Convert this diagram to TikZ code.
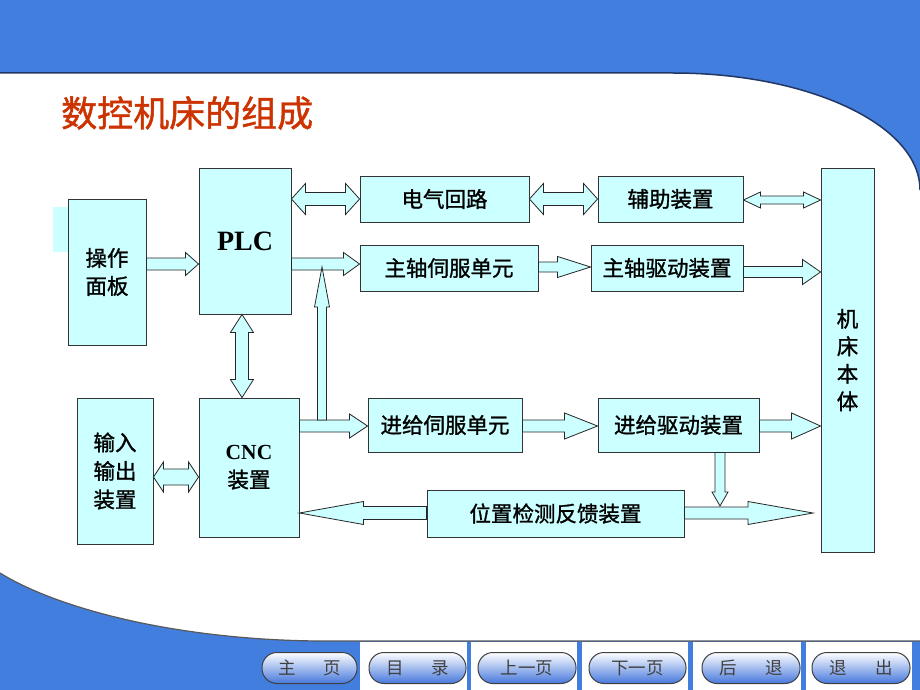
\documentclass[tikz,border=0pt]{standalone}
\usepackage{fontspec}
\setmainfont{Liberation Serif}
\newfontfamily\cjk{Noto Sans CJK SC}
\newfontfamily\cjkb{Noto Sans CJK SC}[FakeBold=1.2]
\usetikzlibrary{calc}

\definecolor{slideblue}{RGB}{66,126,222}
\definecolor{edgeblue}{RGB}{35,55,100}
\definecolor{boxcyan}{RGB}{204,255,255}
\definecolor{titlered}{RGB}{204,51,0}
\definecolor{btnblue}{RGB}{70,120,220}

% block arrows: tail, tip, level (y or x), shaft half width, head half width, head length
\newcommand{\harrow}[6]{%
	\draw[barrow] let \p1=(#1), \p2=(#2), \p3=(0,#3), \n1={(\x2-\x1)/abs(\x2-\x1)*#6} in
		(\x1,{\y3+#4}) -- ({\x2-\n1},{\y3+#4}) -- ({\x2-\n1},{\y3+#5}) -- (\x2,\y3)
		-- ({\x2-\n1},{\y3-#5}) -- ({\x2-\n1},{\y3-#4}) -- (\x1,{\y3-#4}) -- cycle;}
\newcommand{\varrow}[6]{%
	\draw[barrow] let \p1=(#1), \p2=(#2), \p3=(#3,0), \n1={(\y2-\y1)/abs(\y2-\y1)*#6} in
		({\x3+#4},\y1) -- ({\x3+#4},{\y2-\n1}) -- ({\x3+#5},{\y2-\n1}) -- (\x3,\y2)
		-- ({\x3-#5},{\y2-\n1}) -- ({\x3-#4},{\y2-\n1}) -- ({\x3-#4},\y1) -- cycle;}
\newcommand{\hdarrow}[6]{%
	\draw[barrow] let \p1=(#1), \p2=(#2), \p3=(0,#3), \n1={(\x2-\x1)/abs(\x2-\x1)*#6} in
		(\x1,\y3) -- ({\x1+\n1},{\y3+#5}) -- ({\x1+\n1},{\y3+#4}) -- ({\x2-\n1},{\y3+#4})
		-- ({\x2-\n1},{\y3+#5}) -- (\x2,\y3) -- ({\x2-\n1},{\y3-#5}) -- ({\x2-\n1},{\y3-#4})
		-- ({\x1+\n1},{\y3-#4}) -- ({\x1+\n1},{\y3-#5}) -- cycle;}
\newcommand{\vdarrow}[6]{%
	\draw[barrow] let \p1=(#1), \p2=(#2), \p3=(#3,0), \n1={(\y2-\y1)/abs(\y2-\y1)*#6} in
		(\x3,\y1) -- ({\x3+#5},{\y1+\n1}) -- ({\x3+#4},{\y1+\n1}) -- ({\x3+#4},{\y2-\n1})
		-- ({\x3+#5},{\y2-\n1}) -- (\x3,\y2) -- ({\x3-#5},{\y2-\n1}) -- ({\x3-#4},{\y2-\n1})
		-- ({\x3-#4},{\y1+\n1}) -- ({\x3-#5},{\y1+\n1}) -- cycle;}

\begin{document}
\begin{tikzpicture}[x=1pt, y=-1pt,
		box/.style={draw=black!80, fill=boxcyan, line width=0.9pt, inner sep=0pt, align=center,
			font=\cjkb\fontsize{21.5}{28}\selectfont},
		barrow/.style={draw=black!85, fill=boxcyan, line width=0.8pt},
		navbtn/.style={draw=gray!50!black, line width=1pt, rounded corners=15pt, minimum height=31pt,
			top color=white, bottom color=btnblue, inner sep=0pt, text=black!75,
			font=\cjk\fontsize{17.5}{17.5}\selectfont}]
	\useasboundingbox (0,0) rectangle (920,690);
	\fill[white] (0,0) rectangle (920,690);
	
	% slide background
	\fill[slideblue] (0,0) -- (920,0) -- (920,190) .. controls (920,125) and (809,73) .. (673,73) -- (0,73) -- cycle;
	\draw[edgeblue, line width=1.5pt] (0,73) -- (673,73) .. controls (809,73) and (920,125) .. (920,190);
	\fill[slideblue] (0,573) .. controls (60,610) and (180,640) .. (320,641) -- (920,641) -- (920,690) -- (0,690) -- cycle;
	\foreach \xa/\xb in {360/467, 471/577, 582/688, 693/801, 806/912}
		\fill[white] (\xa,642) rectangle (\xb,690);
	\draw[gray!70!black, line width=1.2pt] (0,573) .. controls (60,610) and (180,640) .. (320,641) -- (920,641);
	
	% title
	\node[anchor=west, inner sep=0pt, text=titlered, font=\cjkb\fontsize{36}{36}\selectfont] (title) at (61,113) {数控机床的组成};
	
	% boxes
	\fill[boxcyan] (53,207) rectangle (68,252);
	\node[box, minimum width=78pt, minimum height=146pt] (pnl) at (107,272) {操作\\面板};
	\node[box, minimum width=92pt, minimum height=146pt, font=\bfseries\fontsize{28}{28}\selectfont] (plc) at (245,241) {PLC};
	\node[box, minimum width=76pt, minimum height=146pt, font=\cjkb\fontsize{21.5}{28.5}\selectfont] (io) at (115,471) {输入\\输出\\装置};
	\node[box, minimum width=100pt, minimum height=139pt] (cnc) at (249,467.5) {{\normalfont\bfseries CNC}\\装置};
	\node[box, minimum width=169pt, minimum height=46pt] (elec) at (444.5,199) {电气回路};
	\node[box, minimum width=145pt, minimum height=46pt] (aux) at (670.5,199) {辅助装置};
	\node[box, minimum width=178pt, minimum height=46pt] (sserv) at (449,268) {主轴伺服单元};
	\node[box, minimum width=152pt, minimum height=46pt] (sdrv) at (667,268) {主轴驱动装置};
	\node[box, minimum width=154pt, minimum height=54pt] (fserv) at (445,425) {进给伺服单元};
	\node[box, minimum width=161pt, minimum height=54pt] (fdrv) at (678.5,425) {进给驱动装置};
	\node[box, minimum width=257pt, minimum height=47pt] (fb) at (555.5,513.5) {位置检测反馈装置};
	\node[box, minimum width=53pt, minimum height=384pt, font=\cjkb\fontsize{21.5}{27.5}\selectfont] (mt) at (847.5,360) {机\\床\\本\\体};
	
	\coordinate (upfoot) at (322,420);
	\coordinate (uptip) at (322,267);
	\coordinate (downtip) at (720,506);
	\coordinate (fbtip) at (813,513);
	
	% arrows
	\harrow{pnl.east}{plc.west}{264}{6pt}{11.5pt}{13pt}
	\hdarrow{plc.east}{elec.west}{199}{6.5pt}{15.5pt}{14pt}
	\hdarrow{elec.east}{aux.west}{199}{6.5pt}{15.5pt}{14pt}
	\hdarrow{aux.east}{mt.west}{200}{4pt}{8pt}{17pt}
	\harrow{plc.east}{sserv.west}{264}{6pt}{11.5pt}{16pt}
	\harrow{sserv.east}{sdrv.west}{267}{5pt}{10.5pt}{33pt}
	\harrow{sdrv.east}{mt.west}{272}{5.5pt}{12.5pt}{18pt}
	\vdarrow{plc.south}{cnc.north}{242}{6.5pt}{11.5pt}{18pt}
	\hdarrow{io.east}{cnc.west}{477}{8pt}{15pt}{10pt}
	\harrow{cnc.east}{fserv.west}{426}{6pt}{12pt}{18pt}
	\varrow{upfoot}{uptip}{322}{4.5pt}{7.5pt}{40pt}
	\harrow{fserv.east}{fdrv.west}{426}{6pt}{13pt}{33pt}
	\harrow{fdrv.east}{mt.west}{426}{6pt}{13pt}{29pt}
	\varrow{fdrv.south}{downtip}{720}{5pt}{8pt}{14pt}
	\harrow{fb.west}{cnc.east}{513}{6.5pt}{11.5pt}{64pt}
	\harrow{fb.east}{fbtip}{513}{6pt}{11.5pt}{65pt}
	
	% navigation buttons
	\foreach \xa/\xb/\lbl [count=\i] in {262/357/{主\hspace{28pt}页}, 369/466/{目\hspace{28pt}录},
			478/576/上一页, 589/686/下一页, 702/800/{后\hspace{28pt}退}, 812/910/{退\hspace{28pt}出}}
		\node[navbtn, minimum width={(\xb-\xa)*1pt}] (btn\i) at ({(\xa+\xb)/2},668) {\lbl};
\end{tikzpicture}
\end{document}
